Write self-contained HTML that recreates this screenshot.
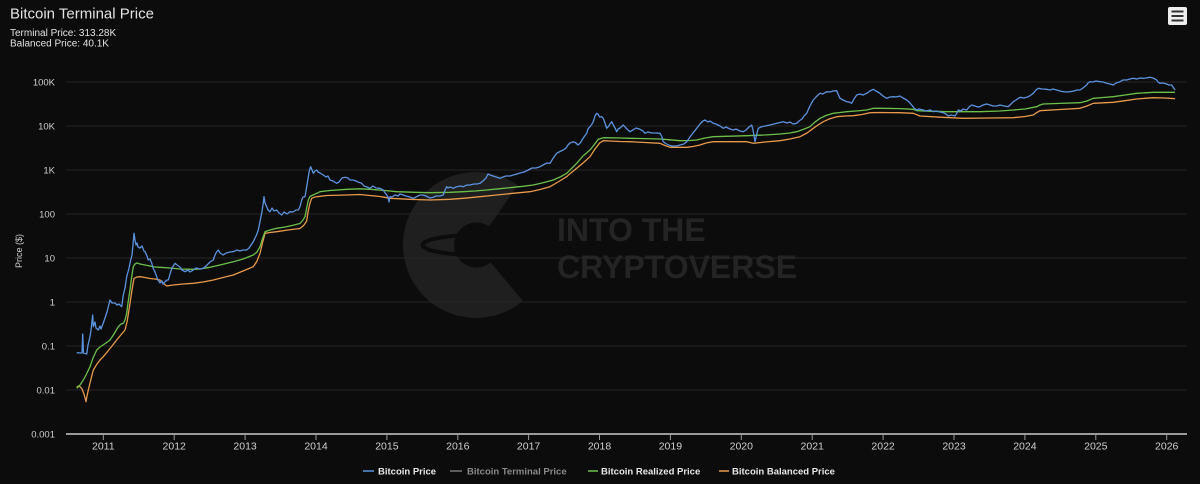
<!DOCTYPE html>
<html><head><meta charset="utf-8"><style>
html,body{margin:0;padding:0;background:#0c0c0c;}
svg{display:block;font-family:"Liberation Sans",Arial,sans-serif;}
</style></head><body>
<svg width="1200" height="484" viewBox="0 0 1200 484" xmlns="http://www.w3.org/2000/svg">
<rect width="1200" height="484" fill="#0c0c0c"/>
<!-- watermark -->
<g>
<path d="M476,245 L522.9,300.9 A73,73 0 1,1 517.9,185.2 Z" fill="#1f1f1f"/>
<circle cx="476.5" cy="245" r="22.5" fill="#0c0c0c"/>
<ellipse cx="477.5" cy="245" rx="55" ry="10" fill="none" stroke="#0c0c0c" stroke-width="4"/>
<text x="557" y="241" font-size="32" font-weight="bold" fill="#242424">INTO THE</text>
<text x="557" y="278" font-size="32" font-weight="bold" fill="#242424">CRYPTOVERSE</text>
</g>
<!-- grid -->
<g stroke="#262626" stroke-width="1">
<line x1="66" y1="82" x2="1187" y2="82"/>
<line x1="66" y1="126" x2="1187" y2="126"/>
<line x1="66" y1="170" x2="1187" y2="170"/>
<line x1="66" y1="214" x2="1187" y2="214"/>
<line x1="66" y1="258" x2="1187" y2="258"/>
<line x1="66" y1="302" x2="1187" y2="302"/>
<line x1="66" y1="346" x2="1187" y2="346"/>
<line x1="66" y1="390" x2="1187" y2="390"/>
</g>
<!-- axis -->
<line x1="66" y1="434" x2="1187" y2="434" stroke="#9a9a9a" stroke-width="2"/>
<g stroke="#9a9a9a" stroke-width="1">
<line x1="103.3" y1="434" x2="103.3" y2="440"/>
<line x1="174.2" y1="434" x2="174.2" y2="440"/>
<line x1="245.1" y1="434" x2="245.1" y2="440"/>
<line x1="316" y1="434" x2="316" y2="440"/>
<line x1="386.9" y1="434" x2="386.9" y2="440"/>
<line x1="457.8" y1="434" x2="457.8" y2="440"/>
<line x1="528.6" y1="434" x2="528.6" y2="440"/>
<line x1="599.5" y1="434" x2="599.5" y2="440"/>
<line x1="670.4" y1="434" x2="670.4" y2="440"/>
<line x1="741.3" y1="434" x2="741.3" y2="440"/>
<line x1="812.2" y1="434" x2="812.2" y2="440"/>
<line x1="883.1" y1="434" x2="883.1" y2="440"/>
<line x1="954" y1="434" x2="954" y2="440"/>
<line x1="1024.9" y1="434" x2="1024.9" y2="440"/>
<line x1="1095.8" y1="434" x2="1095.8" y2="440"/>
<line x1="1166.7" y1="434" x2="1166.7" y2="440"/>
</g>
<g font-size="10.5" fill="#cfcfcf" text-anchor="middle">
<text x="103.3" y="449.5">2011</text>
<text x="174.2" y="449.5">2012</text>
<text x="245.1" y="449.5">2013</text>
<text x="316" y="449.5">2014</text>
<text x="386.9" y="449.5">2015</text>
<text x="457.8" y="449.5">2016</text>
<text x="528.6" y="449.5">2017</text>
<text x="599.5" y="449.5">2018</text>
<text x="670.4" y="449.5">2019</text>
<text x="741.3" y="449.5">2020</text>
<text x="812.2" y="449.5">2021</text>
<text x="883.1" y="449.5">2022</text>
<text x="954" y="449.5">2023</text>
<text x="1024.9" y="449.5">2024</text>
<text x="1095.8" y="449.5">2025</text>
<text x="1166.7" y="449.5">2026</text>
</g>
<g font-size="9.5" fill="#cfcfcf" text-anchor="end">
<text x="55" y="85.5">100K</text>
<text x="55" y="129.5">10K</text>
<text x="55" y="173.5">1K</text>
<text x="55" y="217.5">100</text>
<text x="55" y="261.5">10</text>
<text x="55" y="305.5">1</text>
<text x="55" y="349.5">0.1</text>
<text x="55" y="393.5">0.01</text>
<text x="55" y="437.5">0.001</text>
</g>
<text transform="translate(22,251) rotate(-90)" font-size="9" fill="#cfcfcf" text-anchor="middle">Price ($)</text>
<!-- title -->
<text x="10" y="18.5" font-size="15" fill="#e2e2e2">Bitcoin Terminal Price</text>
<text x="10" y="36" font-size="10" fill="#e2e2e2">Terminal Price: 313.28K</text>
<text x="10" y="46.5" font-size="10" fill="#e2e2e2">Balanced Price: 40.1K</text>
<!-- menu icon -->
<rect x="1168" y="7" width="19" height="18" rx="2" fill="#eeeeee"/>
<g stroke="#333" stroke-width="2">
<line x1="1171.5" y1="11.5" x2="1183.5" y2="11.5"/>
<line x1="1171.5" y1="16" x2="1183.5" y2="16"/>
<line x1="1171.5" y1="20.5" x2="1183.5" y2="20.5"/>
</g>
<!-- series -->
<polyline fill="none" stroke="#e8994a" stroke-width="1.3" stroke-linejoin="round" points="76.7,386.7 79,386 81.7,388.3 84,394 86,401.7 87,396 88.3,390 90,383 93.3,370 97,364 100,360 103.3,356.7 108,351 112,346 116.7,340 120,336 125,330 127,322 128.5,313 130,303.3 132,290 134,278.3 137,277 140,276.7 145,277.5 150,278.5 155,279 160,280 163,283 166.7,286 170,285.5 173.3,285 183,284 193.3,283.3 203,282 213.3,280 223,277.5 233.3,275 243,271 253.3,266.7 257,261 260,253.3 262.5,243 265,233.3 270,232.5 276.7,231.7 288,230 300,228.5 304,225 306.7,221 308,212 310,203 311.7,198.3 315,197 320,196.3 326.7,195.5 346.7,195 360,194.5 370,195.5 380,196.5 390,198.3 410,199.3 430,200 450,199.3 463.3,198.3 480,196.7 496.7,195 513,193.3 530,191.7 540,189.5 550,186.7 558,182 566.7,176.7 572,172 576.7,168.3 583,163 590,156.7 595,149 600,142.7 603.3,140.7 610,141 620,141.5 630,141.7 645,142.5 660,143.3 665,145.5 670,147.3 680,147.3 686.7,147.3 693,146.5 700,145 706,143 713.3,141.7 730,141.7 746.7,141.7 750,142.5 753.3,143.3 765,142 780,140.7 790,139 800,136.7 807,133 813.3,128.3 818,125 823.3,121.7 830,118.7 836.7,116.7 845,116 853.3,115.7 862,114.5 870,112.7 880,112.5 900,112.7 913.3,113.3 920,116 940,117.2 963.3,118.3 990,118 1013.3,117.7 1025,116.5 1033.3,115 1036,113 1040,110.7 1060,109.5 1080,108.3 1087,106 1093.3,103.3 1103,102.8 1113.3,102.3 1125,100.7 1136.7,99 1145,98.3 1153.3,97.7 1165,98 1175,98.7"/>
<polyline fill="none" stroke="#6cc04a" stroke-width="1.3" stroke-linejoin="round" points="76.7,388.3 80,385 83.3,380 86,375 90,366.7 93,358 96.7,350 100,347 103,345 106,343 110,340 114,334 118.3,326.7 121,324 123.3,323.3 125,320 126.7,313.3 128,303 130,290 131.5,278 133.3,266.7 135,264 137,263 140,264 145,265 150,266 155,267 160,267.3 170,268 180,269 193.3,269.3 200,269 210,267.3 220,265 233.3,261.7 243,259 253.3,255 257,252 260,246.7 262,240 265,231.7 270,230 276.7,228.3 285,227 292,225.5 300,223.5 303,220 305,216.7 306.5,209 308.3,200 310,196.5 313,195 316.7,193.3 320,191.7 330,190.5 346.7,189.3 360,188.8 370,189.3 385,190.5 396.7,191.7 415,192.3 430,192.7 450,192.3 463.3,191.7 475,191 486.7,190 500,188.7 513.3,187.3 523,186.3 533.3,185 543,182.8 553.3,180 560,177 566.7,173.3 572,168 576.7,163.3 583,156 590,150 594,145 598.3,139.3 603.3,137.7 610,137.8 620,138 630,138.3 645,138.6 660,139 670,139.8 680,140.7 690,140.5 696.7,140 705,138 713.3,136.7 730,136.2 746.7,135.7 765,135 780,134 790,133 796.7,131.7 803,129.5 810,126.7 815,122 820,118.3 826,115.5 833.3,113.3 840,112.5 846.7,111.7 856,111 866.7,110 873.3,108.3 880,108.3 900,108.6 913.3,109.3 916.7,110.7 930,111.2 946.7,111.7 960,111.7 980,111.7 1000,111 1013.3,110 1025,109 1036.7,106.7 1040,105 1043.3,104 1060,103.4 1080,102.7 1087,101 1093.3,98.3 1103,97.5 1113.3,96.7 1125,95 1136.7,93.3 1145,92.8 1153.3,92.3 1165,92.3 1175,92.3"/>
<polyline fill="none" stroke="#5b93e0" stroke-width="1.3" stroke-linejoin="round" points="76.7,352.7 80,353 82,353 82.7,334 83.5,353 86.7,354 88,345 90,336.7 91,330 92.7,315 93.3,326.7 95,322 96,328 98.3,330 100,326 101,329 103.3,323 105,318 107,312 110,300 112,303 115,303 117,305 119,304 121.7,306.7 123.3,295 125,288 126.7,276.7 128,272 129,268 130.7,260 132,255 133,245 134,233.3 135,240 136,245 137,243 138,247 140,248 142,246 144,251 145,251.7 147,256 148.3,260 150,259 151.7,263 153,268 155,272 156.7,276.7 158,280 160,283 162,281 163,284 165,281.7 167,280 168.3,280 170,274 172,268 175,263.3 177,265 180,267 182,270 185,271.7 188,270 190,272 193.3,270 196,268 200,269 203.3,268.3 206,266 208,264 210,262 213.3,260 215,255 216.5,252 218.3,250 220,253 223.3,255 226,253 230,252 233.3,251.7 237,250 240,251 243,250 246.7,250 249,248 251,245 253.3,241.7 255,238 256.5,235 258.3,230 259.5,224 260.5,219 261.7,213.3 263,205 264,196.7 265,203 266.7,206.7 268,210 270,211.7 272,208 274,211 276.7,210 279,213 281.7,215 284,212 287,214 290,211.7 293,212 296,210 298.3,210 300,206.7 301.7,200 303,197 305,196.7 306.5,188 308.3,176.7 309.5,170 310.7,166.7 312,170 313.3,173.3 315,171 316.7,170 318,172 320,173 323.3,175 326,177 328,176 330,180 333,181 336.7,183.3 339,182 342,178 345,177.3 348,178 350,180 353.3,180 356,181 358,182 361.7,183.3 364,186 367,187 370,188.3 373,186 376,188 380,188.3 383,190 386,194 388,197 389,202 390,196.7 392,197 395,195 398,196 400,194 403.3,195 406,196 410,197 413.3,198.3 416,197 420,195 423.3,195 426,196 430,198 433.3,197.3 436,196 440,196 443.3,195 445,190 446.7,186.7 448,188 450,187 453.3,188.3 456,187 460,186 463.3,186.7 467,185 470,185 474,184 477,184 480,183.3 483,181 486,178 488,174 490,175 493,176 496,177 500,178.3 503,177 506,176 510,176 513.3,175 517,174 520,173 524,172 528.3,170 532,168 536,168 540,166.7 543,165 547,163 550,163.3 552,160 554,157 556.7,153.3 559,152 561,151 563.3,150 566,148 568,145 570,143 573.3,141.7 576,143 578,145 580,143.3 582,140 584,137 586.7,133.3 588,129 590,126.7 592,124 593.3,121.7 595,116 596.7,113.3 598,114 599.5,117 601.7,116.7 603.3,118.3 605,123 606.7,128.3 608.3,126.7 610,124 611.7,121.7 613.3,125 615,128 616.7,131.7 618,129 620,128 623.3,125 626,128 628,130 630,131.7 633,130 636,128 640,129.3 643,131 645,133.3 648,132 652,133 656,133 660,133.3 662,137 663.3,141.7 665,143 668.3,145 672,146 676.7,146 680,145 684,144 686.7,141.7 690,137 693,133 696.7,128.3 700,124 703,121 705,120 708,122 710,121 713.3,123.3 716,124 720,126 723.3,128.3 726,127 730,129 733.3,130 736,129 740,131 743.3,131.7 746,130 749,127 751.7,125 753,130 755,141.7 756.5,135 758.3,128.3 761,127 765,126 770,125 774,124 778,123 783.3,121.7 787,123 790,122 793,124 796.7,123.3 799,121 802,119 804,116 806.7,113.3 809,108 811,104 813.3,100 816,97 818,95 820,93.3 823,94 826.7,91.7 830,92 833,91 836.7,90.7 838,94 840,98.3 843,100 846.7,101.7 849,102 851.7,103.3 854,99 856.7,95 860,94 863,95 866.7,93.3 870,91 873.3,89.3 876,91 880,93.3 883,96 886.7,98.3 890,97 893.3,96.7 896,97 900,96 903,98 906.7,100 909,102 911.7,105 914,108 916.7,110 919,109 923.3,110 926,111 930,110 933.3,111.7 936,111 940,112 943.3,112.7 946,114 948.3,116 951,115 955,116 957,113 958.3,110 961,111 963,109 966.7,110 969,107 971.7,105 975,106 978,107 980,106.7 983,105 986.7,104 990,105 993,106 996.7,106 1000,105 1004,106 1008.3,106.7 1011,104 1013.3,101.7 1016,100 1020,97.3 1024,98 1028.3,96.7 1031,95 1033.3,93.3 1036,90 1038.3,88.3 1042,89 1046.7,89.3 1050,90 1053,89 1056.7,90 1060,91 1063.3,91.7 1066,92 1070,91.7 1074,91 1077,90 1080,90 1083,88 1086.7,85 1088,83 1090,81.7 1093,82 1096,81 1100,81.7 1103,82 1106.7,83.3 1110,84 1113.3,85 1116,83 1120,81.7 1123,80 1126.7,80 1130,79 1133.3,78.3 1137,79 1140,78 1143.3,78.3 1146,78 1150,77.3 1153,78 1156.7,80 1158,82 1160,83.3 1163,83 1166.7,84 1169,85 1171.7,85 1173,87 1175,90"/>
<!-- legend -->
<g font-size="9.5" font-weight="bold">
<line x1="363" y1="471" x2="374" y2="471" stroke="#5b93e0" stroke-width="1.5"/>
<text x="378" y="474.5" fill="#e8e8e8">Bitcoin Price</text>
<line x1="450" y1="471" x2="462" y2="471" stroke="#777" stroke-width="1.5"/>
<text x="467" y="474.5" fill="#8a8a8a">Bitcoin Terminal Price</text>
<line x1="588" y1="471" x2="598" y2="471" stroke="#6cc04a" stroke-width="1.5"/>
<text x="601" y="474.5" fill="#e8e8e8">Bitcoin Realized Price</text>
<line x1="719" y1="471" x2="729" y2="471" stroke="#e8994a" stroke-width="1.5"/>
<text x="732" y="474.5" fill="#e8e8e8">Bitcoin Balanced Price</text>
</g>
</svg>
</body></html>
